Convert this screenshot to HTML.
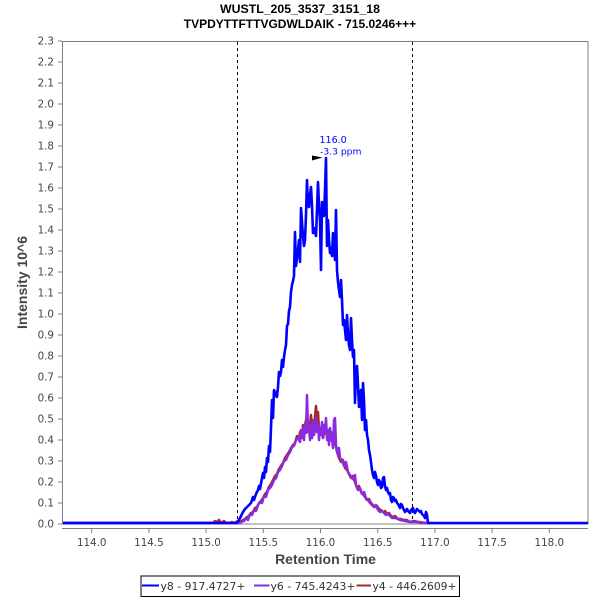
<!DOCTYPE html>
<html>
<head>
<meta charset="utf-8">
<style>
  html, body { margin:0; padding:0; background:#fff; }
  svg { display:block; }
</style>
</head>
<body>
<svg width="600" height="600" viewBox="0 0 600 600" xmlns="http://www.w3.org/2000/svg">
  <rect x="0" y="0" width="600" height="600" fill="#ffffff"/>

  <!-- Title -->
  <text x="300" y="13" text-anchor="middle" font-family="Liberation Sans, Arial, sans-serif" font-weight="bold" font-size="12.3" fill="#000">WUSTL_205_3537_3151_18</text>
  <text x="300" y="28" text-anchor="middle" font-family="Liberation Sans, Arial, sans-serif" font-weight="bold" font-size="12" fill="#000">TVPDYTTFTTVGDWLDAIK - 715.0246+++</text>

  <!-- Plot outline -->
  <rect x="62.5" y="41.5" width="525.5" height="482.5" fill="#fff" stroke="#808080" stroke-width="1"/>

  <!-- Y axis -->
  <line x1="62.5" y1="41" x2="62.5" y2="524.5" stroke="#808080" stroke-width="1"/>
  <g stroke="#808080" stroke-width="1">
    <line x1="58" y1="524" x2="62" y2="524"/>
    <line x1="58" y1="503" x2="62" y2="503"/>
    <line x1="58" y1="482" x2="62" y2="482"/>
    <line x1="58" y1="461" x2="62" y2="461"/>
    <line x1="58" y1="440" x2="62" y2="440"/>
    <line x1="58" y1="419" x2="62" y2="419"/>
    <line x1="58" y1="398" x2="62" y2="398"/>
    <line x1="58" y1="377" x2="62" y2="377"/>
    <line x1="58" y1="356" x2="62" y2="356"/>
    <line x1="58" y1="335" x2="62" y2="335"/>
    <line x1="58" y1="314" x2="62" y2="314"/>
    <line x1="58" y1="293" x2="62" y2="293"/>
    <line x1="58" y1="272" x2="62" y2="272"/>
    <line x1="58" y1="251" x2="62" y2="251"/>
    <line x1="58" y1="230" x2="62" y2="230"/>
    <line x1="58" y1="209" x2="62" y2="209"/>
    <line x1="58" y1="188" x2="62" y2="188"/>
    <line x1="58" y1="167" x2="62" y2="167"/>
    <line x1="58" y1="146" x2="62" y2="146"/>
    <line x1="58" y1="125" x2="62" y2="125"/>
    <line x1="58" y1="104" x2="62" y2="104"/>
    <line x1="58" y1="83" x2="62" y2="83"/>
    <line x1="58" y1="62" x2="62" y2="62"/>
    <line x1="58" y1="41" x2="62" y2="41"/>
  </g>
  <g font-family="DejaVu Sans, Liberation Sans, sans-serif" font-size="10.3" fill="#444" text-anchor="end">
    <text x="54" y="527.7">0.0</text>
    <text x="54" y="506.7">0.1</text>
    <text x="54" y="485.7">0.2</text>
    <text x="54" y="464.7">0.3</text>
    <text x="54" y="443.7">0.4</text>
    <text x="54" y="422.7">0.5</text>
    <text x="54" y="401.7">0.6</text>
    <text x="54" y="380.7">0.7</text>
    <text x="54" y="359.7">0.8</text>
    <text x="54" y="338.7">0.9</text>
    <text x="54" y="317.7">1.0</text>
    <text x="54" y="296.7">1.1</text>
    <text x="54" y="275.7">1.2</text>
    <text x="54" y="254.7">1.3</text>
    <text x="54" y="233.7">1.4</text>
    <text x="54" y="212.7">1.5</text>
    <text x="54" y="191.7">1.6</text>
    <text x="54" y="170.7">1.7</text>
    <text x="54" y="149.7">1.8</text>
    <text x="54" y="128.7">1.9</text>
    <text x="54" y="107.7">2.0</text>
    <text x="54" y="86.7">2.1</text>
    <text x="54" y="65.7">2.2</text>
    <text x="54" y="44.7">2.3</text>
  </g>
  <text transform="translate(27,282.5) rotate(-90)" text-anchor="middle" font-family="Liberation Sans, Arial, sans-serif" font-weight="bold" font-size="14" fill="#444">Intensity 10^6</text>

  <!-- X axis -->
  <line x1="62" y1="528.5" x2="588" y2="528.5" stroke="#808080" stroke-width="1"/>
  <g stroke="#808080" stroke-width="1">
    <line x1="91.7" y1="529" x2="91.7" y2="533"/>
    <line x1="148.9" y1="529" x2="148.9" y2="533"/>
    <line x1="206.1" y1="529" x2="206.1" y2="533"/>
    <line x1="263.3" y1="529" x2="263.3" y2="533"/>
    <line x1="320.5" y1="529" x2="320.5" y2="533"/>
    <line x1="377.7" y1="529" x2="377.7" y2="533"/>
    <line x1="434.9" y1="529" x2="434.9" y2="533"/>
    <line x1="492.1" y1="529" x2="492.1" y2="533"/>
    <line x1="549.3" y1="529" x2="549.3" y2="533"/>
  </g>
  <g font-family="DejaVu Sans, Liberation Sans, sans-serif" font-size="10.3" fill="#444" text-anchor="middle">
    <text x="91.7" y="546">114.0</text>
    <text x="148.9" y="546">114.5</text>
    <text x="206.1" y="546">115.0</text>
    <text x="263.3" y="546">115.5</text>
    <text x="320.5" y="546">116.0</text>
    <text x="377.7" y="546">116.5</text>
    <text x="434.9" y="546">117.0</text>
    <text x="492.1" y="546">117.5</text>
    <text x="549.3" y="546">118.0</text>
  </g>
  <text x="325.5" y="564" text-anchor="middle" font-family="Liberation Sans, Arial, sans-serif" font-weight="bold" font-size="14" fill="#444">Retention Time</text>

  <!-- Dashed boundary lines -->
  <line x1="237.5" y1="42" x2="237.5" y2="523" stroke="#000" stroke-width="1" stroke-dasharray="3,3"/>
  <line x1="412.5" y1="42" x2="412.5" y2="523" stroke="#000" stroke-width="1" stroke-dasharray="3,3"/>

  <!-- Red y4 -->
  <polyline fill="none" stroke="#a52a2a" stroke-width="2.5" stroke-linejoin="round" points="63,523 213,523 215,521 217,522 219,520 221,523 224,521 226,523 229,523 232,522 234,523 238,521 240,522 243,520 245,519 247,517 249,516 251,513 253,512 255,508 257,507 259,503 261,501 263,498 265,494 267,492 269,487 271,484 273,480 275,476 277,474 279,469 281,466 283,463 285,458 287,455 289,452 291,448 293,445 295,443 297,436 299,440 300,432 302,438 303,425 304,430 306,420 308,432 310,425 311,415 312,432 314,428 316,406 317,420 318,412 319,430 321,428 323,438 325,430 327,435 329,440 331,432 333,445 335,442 337,452 339,458 341,462 343,460 345,468 347,470 349,474 351,478 353,476 355,482 357,488 359,486 361,492 363,494 365,497 367,500 369,499 371,503 373,505 375,507 377,506 379,509 381,510 383,512 385,511 387,514 389,513 391,516 393,517 395,516 398,519 401,519 404,520 407,520 410,522 414,521 418,522 422,523 430,523"/>

  <!-- Purple y6 -->
  <polyline fill="none" stroke="#8a2be2" stroke-width="2.5" stroke-linejoin="round" points="63,523 240,523 241,522 244,521 246,518 248,520 250,514 252,515 254,510 256,511 258,505 260,502 262,503 264,496 266,497 268,490 270,488 272,485 274,480 276,478 278,472 280,470 282,466 284,461 286,460 288,455 290,452 292,447 294,446 296,440 298,438 300,442 301,430 302,436 303,428 304,440 305,425 306,433 307,395 308,430 309,428 310,440 311,425 312,438 313,420 314,435 315,430 316,418 317,432 318,425 319,440 320,428 321,435 322,422 323,438 324,425 325,432 326,418 327,440 328,430 329,445 330,428 331,440 332,438 333,448 334,420 335,418 336,445 337,450 338,455 339,448 340,458 342,460 344,466 346,462 348,472 350,475 352,478 354,480 355,475 356,485 358,490 360,488 362,494 364,492 366,498 368,500 370,503 372,505 374,507 376,505 378,510 380,512 382,511 384,513 386,515 388,514 390,516 392,518 395,518 398,519 400,520 405,521 410,522 415,522 420,522 425,523 428,523"/>

  <!-- Blue y8 -->
  <polyline fill="none" stroke="#0000ff" stroke-width="2.6" stroke-linejoin="round" points="63,523 237,523 239,520 241,516 243,512 245,509 247,507 249,505 251,503 253,497 254,500 256,494 258,490 259,486 260,489 262,478 263,473 264,478 265,467 266,472 267,458 268,462 269,446 270,452 271,428 272,400 273,418 274,390 275,396 276,392 277,397 278,387 279,372 280,376 281,372 282,360 283,367 284,357 285,350 286,345 287,326 288,324 289,311 290,307 291,292 292,285 293,281 294,276 295,232 296,266 297,258 298,250 299,240 300,262 301,208 302,222 303,236 304,246 305,240 306,215 307,180 308,205 309,207 310,195 311,187 312,206 313,233 314,228 315,232 316,236 317,210 318,182 319,205 320,220 321,270 322,202 323,212 324,216 325,190 326,158 327,246 328,220 329,240 330,253 331,248 332,256 333,233 334,250 335,260 336,210 337,270 338,282 339,290 340,297 341,280 342,300 343,325 344,320 345,330 346,340 347,315 348,335 349,345 350,350 351,318 352,340 353,357 354,350 355,403 356,370 357,366 358,385 359,407 360,396 361,390 362,420 363,383 364,400 365,430 366,420 367,435 368,440 369,450 370,455 371,462 372,470 373,475 374,478 375,472 376,476 377,482 378,485 379,480 380,482 381,488 382,487 383,478 384,477 385,486 386,490 387,488 388,492 389,494 390,493 391,500 392,502 393,497 394,498 395,501 396,500 397,503 398,504 399,506 400,508 401,504 402,505 403,508 405,512 407,509 408,511 410,513 411,510 413,508 414,512 415,513 417,509 418,510 420,512 421,511 422,514 424,516 425,518 426,512 427,515 428,523 588,523"/>

  <!-- Peak annotation -->
  <polygon points="312,155.5 322.5,157.5 312,160.5" fill="#000"/>
  <text x="319.5" y="143" font-family="DejaVu Sans, Liberation Sans, sans-serif" font-size="9.5" fill="#0000ff">116.0</text>
  <text x="320" y="154.5" font-family="DejaVu Sans, Liberation Sans, sans-serif" font-size="9.2" fill="#0000ff">-3.3 ppm</text>

  <!-- Legend -->
  <rect x="141" y="576" width="318.5" height="20.5" fill="#fff" stroke="#000" stroke-width="1"/>
  <line x1="142" y1="585.5" x2="159" y2="585.5" stroke="#0000ff" stroke-width="2"/>
  <text x="160.5" y="590" font-family="DejaVu Sans, Liberation Sans, sans-serif" font-size="10.8" fill="#333" textLength="85" lengthAdjust="spacingAndGlyphs">y8 - 917.4727+</text>
  <line x1="254" y1="585.5" x2="269.5" y2="585.5" stroke="#8a2be2" stroke-width="2"/>
  <text x="270.5" y="590" font-family="DejaVu Sans, Liberation Sans, sans-serif" font-size="10.8" fill="#333" textLength="85" lengthAdjust="spacingAndGlyphs">y6 - 745.4243+</text>
  <line x1="356.5" y1="585.5" x2="371" y2="585.5" stroke="#a52a2a" stroke-width="2"/>
  <text x="372.5" y="590" font-family="DejaVu Sans, Liberation Sans, sans-serif" font-size="10.8" fill="#333" textLength="84" lengthAdjust="spacingAndGlyphs">y4 - 446.2609+</text>
</svg>
</body>
</html>
